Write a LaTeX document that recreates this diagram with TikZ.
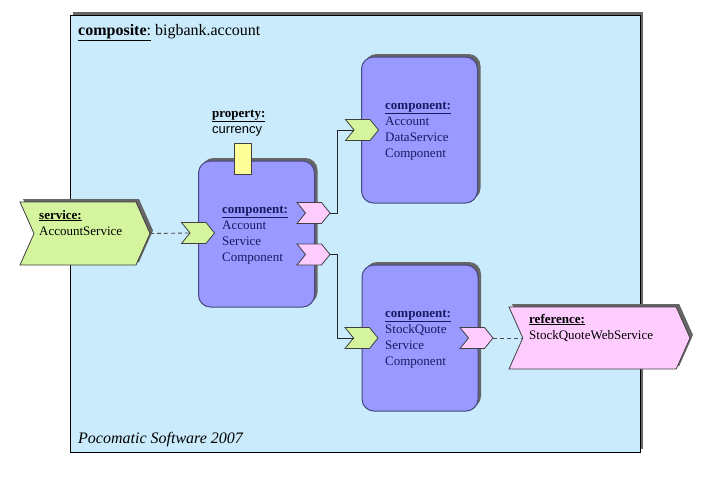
\documentclass[tikz,border=0pt]{standalone}
\usepackage{fontspec}
\setmainfont{Liberation Serif}
\newfontfamily\propfont{Liberation Sans}
\usetikzlibrary{shapes.symbols,shadows}

\definecolor{compositeblue}{RGB}{202,235,251}
\definecolor{componentblue}{RGB}{153,153,255}
\definecolor{servicegreen}{RGB}{212,245,158}
\definecolor{referencepink}{RGB}{255,204,255}
\definecolor{propyellow}{RGB}{255,255,153}
\definecolor{navytext}{RGB}{25,25,100}

\tikzset{
    boxshadow/.style={drop shadow={shadow xshift=3pt, shadow yshift=3pt, fill=black!60, opacity=1}},
    composite/.style={draw=black, fill=compositeblue, boxshadow, minimum width=570pt, minimum height=437pt, inner sep=0pt},
    component/.style={draw=navytext!80, line width=1pt, fill=componentblue, rounded corners=12pt, boxshadow, minimum width=116pt, minimum height=146pt, inner sep=0pt},
    chevron/.style={signal, signal to=east, signal from=west, draw=black!75, line width=0.8pt, inner sep=0pt, outer sep=0pt},
    bigservice/.style={chevron, fill=servicegreen, boxshadow, signal pointer angle=132, minimum width=#1, minimum height=63pt},
    bigreference/.style={chevron, fill=referencepink, boxshadow, signal pointer angle=132, minimum width=#1, minimum height=62pt},
    serviceport/.style={chevron, fill=servicegreen, signal pointer angle=102, minimum width=33pt, minimum height=21pt},
    referenceport/.style={chevron, fill=referencepink, signal pointer angle=102, minimum width=33pt, minimum height=21pt},
    property/.style={draw=black!75, line width=0.8pt, fill=propyellow, minimum width=17pt, minimum height=31pt, inner sep=0pt},
    label/.style={inner sep=0pt, align=left, anchor=base west, font=\fontsize{13}{16}\selectfont},
    complabel/.style={label, text=navytext},
    wire/.style={draw=black!85, line width=0.9pt},
    dashedwire/.style={draw=black!70, line width=0.9pt, dash pattern=on 4pt off 3pt}
}

\begin{document}
\begin{tikzpicture}[x=1pt, y=-1pt]
    \useasboundingbox[fill=white] (0,0) rectangle (714,477);

    \node[composite] (bigbank) at (355,233.5) {};
    \node[label, font=\fontsize{16}{19}\selectfont] (bigbanktitle) at (78,35) {\underline{\textbf{composite}:} bigbank.account};
    \node[label, font=\fontsize{16}{19}\selectfont\itshape] (footer) at (78,443) {Pocomatic Software 2007};

    \node[bigservice=130pt] (service) at (85,233.5) {};
    \node[bigreference=181pt] (reference) at (599.5,338) {};

    \node[component] (accountcomp) at (256.5,234) {};
    \node[component] (datacomp) at (419.5,130) {};
    \node[component] (stockcomp) at (420,338) {};

    \node[property] (currency) at (242.5,158.5) {};

    \node[serviceport] (accountsvc) at (198,233) {};
    \node[referenceport] (accountref1) at (313.5,213) {};
    \node[referenceport] (accountref2) at (313.5,254.5) {};
    \node[serviceport] (datasvc) at (362,130) {};
    \node[serviceport] (stocksvc) at (361.5,338) {};
    \node[referenceport] (stockref) at (476.5,338) {};

    \draw[dashedwire] (service.east) -- (accountsvc.west);
    \draw[wire] (accountref1.east) -- ++(7,0) |- (datasvc.west);
    \draw[wire] (accountref2.east) -- ++(7,0) |- (stocksvc.west);
    \draw[dashedwire] (stockref.east) -- (reference.west);

    \node[label] (servicetext) at (39,235) {\underline{\textbf{service:}}\\AccountService};
    \node[label] (referencetext) at (529,339) {\underline{\textbf{reference:}}\\StockQuoteWebService};
    \node[label] (propertytext) at (212,133) {\underline{\textbf{property:}}\\{\propfont currency}};
    \node[complabel] (accounttext) at (222,261) {\underline{\textbf{component:}}\\Account\\Service\\Component};
    \node[complabel] (datatext) at (385,157) {\underline{\textbf{component:}}\\Account\\DataService\\Component};
    \node[complabel] (stocktext) at (385,365) {\underline{\textbf{component:}}\\StockQuote\\Service\\Component};
\end{tikzpicture}
\end{document}
